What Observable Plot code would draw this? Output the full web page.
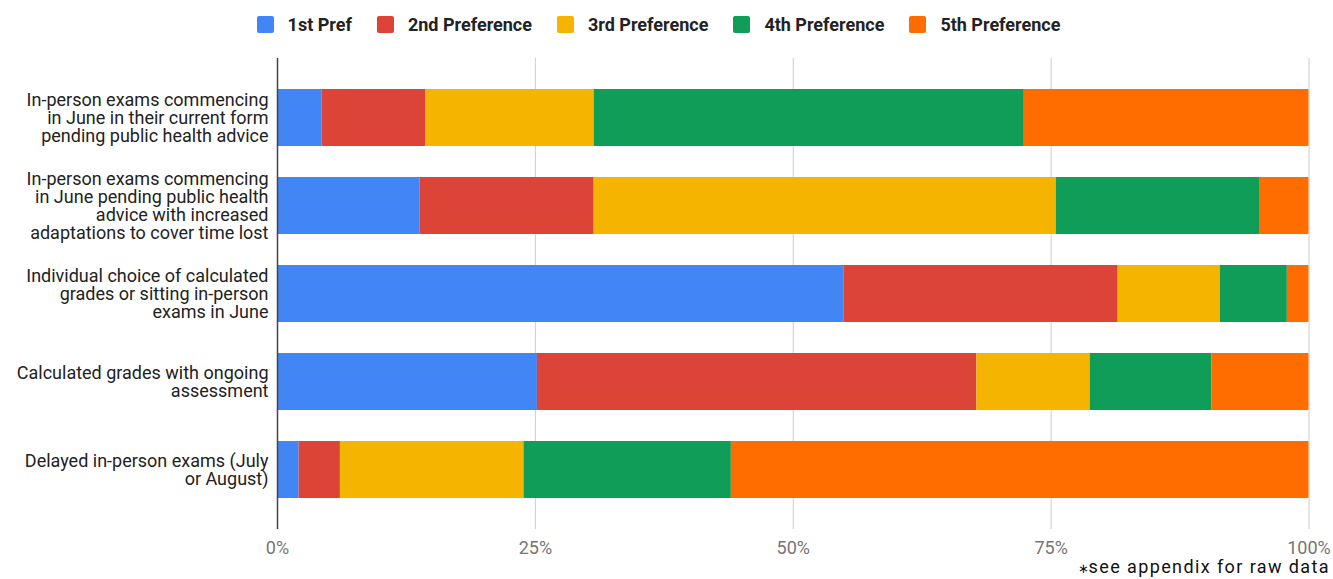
<!DOCTYPE html>
<html>
<head>
<meta charset="utf-8">
<script src="https://cdn.jsdelivr.net/npm/d3@7"></script>
<script src="https://cdn.jsdelivr.net/npm/@observablehq/plot@0.6"></script>
<style>
  html, body { margin: 0; padding: 0; background: #fff; }
  body { width: 1333px; height: 579px; overflow: hidden; font-family: Roboto, sans-serif; }
  #legend { height: 48px; display: flex; align-items: center; justify-content: center; padding-right: 16px; box-sizing: border-box; }
  .item { display: flex; align-items: center; margin-right: 25px; font-size: 18px; font-weight: 700; color: #222; }
  .item:last-child { margin-right: 0; }
  .sw { width: 17px; height: 17px; border-radius: 2px; margin-right: 14px; }
  #caption { text-align: right; padding-right: 3px; font-size: 18px; line-height: 20px; color: #111; letter-spacing: 1.4px; margin-top: -2px; }
  #caption .ast { font-size: 13px; letter-spacing: 0; }
  svg { display: block; }
</style>
</head>
<body>
<div id="legend"></div>
<div id="chart"></div>
<div id="caption"><span class="ast">∗</span>see appendix for raw data</div>
<script>
const categories = [
  "In-person exams commencing in June in their current form pending public health advice",
  "In-person exams commencing in June pending public health advice with increased adaptations to cover time lost",
  "Individual choice of calculated grades or sitting in-person exams in June",
  "Calculated grades with ongoing assessment",
  "Delayed in-person exams (July or August)"
];
const categoryLabels = [
  "In-person exams commencing\nin June in their current form\npending public health advice",
  "In-person exams commencing\nin June pending public health\nadvice with increased\nadaptations to cover time lost",
  "Individual choice of calculated\ngrades or sitting in-person\nexams in June",
  "Calculated grades with ongoing\nassessment",
  "Delayed in-person exams (July\nor August)"
];
const series = ["1st Pref", "2nd Preference", "3rd Preference", "4th Preference", "5th Preference"];
const colors = ["#4285F4", "#DB4437", "#F4B400", "#0F9D58", "#FF6D01"];
const pref1 = [4.3, 13.8, 54.9, 25.2, 2.1];
const pref2 = [10.1, 16.9, 26.6, 42.6, 4.0];
const pref3 = [16.3, 44.8, 9.9, 11.0, 17.8];
const pref4 = [41.7, 19.7, 6.5, 11.8, 20.1];
const pref5 = [27.6, 4.8, 2.1, 9.4, 56.0];
const xTicks = [0, 25, 50, 75, 100];

const seriesValues = [pref1, pref2, pref3, pref4, pref5];
const data = [];
categories.forEach((c, i) => {
  series.forEach((s, j) => data.push({category: c, series: s, value: seriesValues[j][i]}));
});
const labelOf = new Map(categories.map((c, i) => [c, categoryLabels[i]]));

const legend = document.getElementById("legend");
series.forEach((s, j) => {
  const it = document.createElement("div");
  it.className = "item";
  it.innerHTML = `<span class="sw" style="background:${colors[j]}"></span><span>${s}</span>`;
  legend.appendChild(it);
});

const chart = Plot.plot({
  width: 1333,
  height: 511,
  marginLeft: 277,
  marginRight: 24.5,
  marginTop: 10,
  marginBottom: 30,
  style: {fontFamily: "Roboto, sans-serif", fontSize: "18px", color: "#222", background: "#fff"},
  x: {domain: [0, 100], label: null},
  y: {domain: categories, paddingInner: 0.35, paddingOuter: 0.33, label: null},
  color: {domain: series, range: colors},
  marks: [
    Plot.ruleX(xTicks.slice(1), {stroke: "#ccc", strokeWidth: 1}),
    Plot.barX(data, {x: "value", y: "category", fill: "series", order: series}),
    Plot.ruleX([0], {stroke: "#444", strokeWidth: 1.5}),
    Plot.axisX({ticks: xTicks, tickFormat: d => d + "%", tickSize: 0, tickPadding: 12, fill: "#757575", fontSize: 18, label: null}),
    Plot.axisY({tickSize: 0, tickPadding: 9, tickFormat: d => labelOf.get(d), lineHeight: 1.0, fontSize: 18, fill: "#222", label: null})
  ]
});
document.getElementById("chart").appendChild(chart);
</script>
</body>
</html>
